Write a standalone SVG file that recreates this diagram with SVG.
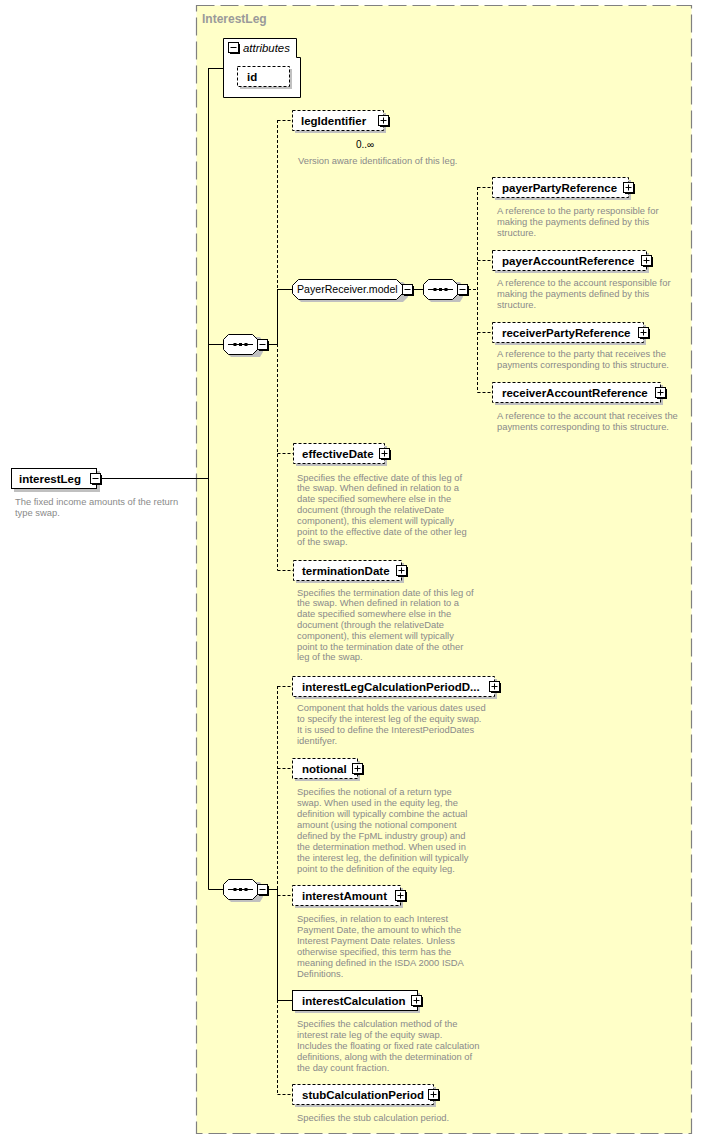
<svg xmlns="http://www.w3.org/2000/svg" xmlns:xlink="http://www.w3.org/1999/xlink" width="702" height="1139" viewBox="0 0 702 1139">
<style>
.frame{fill:#ffffc8;stroke:#808080;stroke-width:1.2;stroke-dasharray:18,6}
.title{font-family:"Liberation Sans",Arial,sans-serif;font-weight:bold;font-size:12px;fill:#9a9a9a}
.shadow{fill:#c0c0c0;stroke:none}
.box{fill:#fff;stroke:#000;stroke-width:1}
.opt{stroke-dasharray:3,2}
.name{font-family:"Liberation Sans",Arial,sans-serif;font-weight:bold;font-size:11.5px;fill:#000}
.model{font-family:"Liberation Sans",Arial,sans-serif;font-size:10.6px;fill:#000}
.attr{font-family:"Liberation Sans",Arial,sans-serif;font-style:italic;font-size:11.4px;fill:#000}
.desc{font-family:"Liberation Sans",Arial,sans-serif;font-size:9.4px;fill:#8a8a8a}
.occ{font-family:"Liberation Sans",Arial,sans-serif;font-size:10px;fill:#000}
.c{fill:none;stroke:#000;stroke-width:1}
.d{stroke-dasharray:3,2}
</style>
<defs>
<g id="plus"><rect x="2" y="2" width="10" height="10" fill="#000"/><rect x="0.5" y="0.5" width="10" height="10" fill="#fff" stroke="#000"/><path d="M2.5 5.5H8.5M5.5 2.5V8.5" stroke="#000" fill="none"/></g>
<g id="minus"><rect x="2" y="2" width="10" height="10" fill="#000"/><rect x="0.5" y="0.5" width="10" height="10" fill="#fff" stroke="#000"/><path d="M2.5 5.5H8.5" stroke="#000" fill="none"/></g>
<g id="seq"><path d="M8 3H37L40 8V18L37 23H8L3 18V8Z" fill="#c0c0c0"/><path d="M5.5 0.5H29.5L34.5 5.5V15.5L29.5 20.5H5.5L0.5 15.5V5.5Z" fill="#fff" stroke="#000"/><path d="M5 10.5H30" stroke="#000"/><rect x="10.5" y="9" width="3" height="3" fill="#000"/><rect x="16" y="9" width="3" height="3" fill="#000"/><rect x="21.5" y="9" width="3" height="3" fill="#000"/></g>
</defs>

<rect class="frame" x="196.5" y="5.5" width="495" height="1128"/>
<text class="title" x="202" y="23">InterestLeg</text>

<g id="connectors">
<path class="c" d="M100 478.5H208.5M208.5 68V889.5M208.5 68.5H223M208.5 344.5H223M268 344.5H277.5M208.5 889.5H223M268 889.5H277.5"/>
<path class="c d" d="M277.5 120V289M277.5 344V570.5M277.5 120.5H292M277.5 453.5H293M277.5 570.5H293"/>
<path class="c" d="M277.5 289V344M277.5 289.5H292M413 289.5H423"/>
<path class="c d" d="M468 289.5H477.5M477.5 187V392.5M477.5 187.5H492M477.5 260.5H492M477.5 332.5H492M477.5 392.5H492"/>
<path class="c d" d="M277.5 686V889M277.5 1000V1094.5M277.5 686.5H292M277.5 768.5H292M277.5 895.5H292M277.5 1094.5H292"/>
<path class="c" d="M277.5 889V1000.5M277.5 1000.5H292"/>
</g>

<g id="n-interestLeg">
<rect class="shadow" x="14" y="471" width="86" height="21"/>
<rect class="box" x="11.5" y="468.5" width="85" height="20"/>
<text class="name" x="19" y="482.5">interestLeg</text>
<use xlink:href="#minus" x="90" y="473"/>
<text class="desc" x="15"><tspan x="15" y="504.5">The fixed income amounts of the return</tspan><tspan x="15" y="515.5">type swap.</tspan></text>
</g>

<g id="n-attributes">
<path class="box" d="M223.5 38.5H296.5V57.5H300.5V97.5H223.5Z"/>
<use xlink:href="#minus" x="228" y="42"/>
<text class="attr" x="243" y="52">attributes</text>
</g>

<g id="n-id">
<rect class="shadow" x="240" y="69" width="52" height="20"/>
<rect class="box opt" x="237.5" y="66.5" width="52" height="20"/>
<text class="name" x="247" y="80.5">id</text>
</g>

<g id="n-legIdentifier">
<rect class="shadow" x="295" y="113" width="91" height="20"/>
<rect class="box opt" x="292.5" y="110.5" width="91" height="20"/>
<text class="name" x="301" y="124.5">legIdentifier</text>
<use xlink:href="#plus" x="378" y="115"/>
<text class="occ" x="356" y="148">0..∞</text>
<text class="desc" x="298" y="163.5">Version aware identification of this leg.</text>
</g>

<g id="n-seq1">
<use xlink:href="#seq" x="223" y="334"/>
<use xlink:href="#minus" x="257" y="339"/>
</g>

<g id="n-PayerReceiver.model">
<path d="M301 282H403L408 287V297L403 302H301L296 297V287Z" fill="#c0c0c0"/>
<path class="box" d="M298.5 279.5H396.5L402.5 285.5V293.5L396.5 299.5H298.5L292.5 293.5V285.5Z"/>
<text class="model" x="297" y="293">PayerReceiver.model</text>
<use xlink:href="#minus" x="402" y="284"/>
</g>

<g id="n-seq2">
<use xlink:href="#seq" x="423" y="279"/>
<use xlink:href="#minus" x="457" y="284"/>
</g>

<g id="n-payerPartyReference">
<rect class="shadow" x="495" y="180" width="136" height="20"/>
<rect class="box opt" x="492.5" y="177.5" width="136" height="20"/>
<text class="name" x="502" y="191.5">payerPartyReference</text>
<use xlink:href="#plus" x="623" y="182"/>
<text class="desc"><tspan x="497" y="213.5">A reference to the party responsible for</tspan><tspan x="497" y="224.5">making the payments defined by this</tspan><tspan x="497" y="235.5">structure.</tspan></text>
</g>

<g id="n-payerAccountReference">
<rect class="shadow" x="495" y="253" width="154" height="20"/>
<rect class="box opt" x="492.5" y="250.5" width="154" height="20"/>
<text class="name" x="502" y="264.5">payerAccountReference</text>
<use xlink:href="#plus" x="641" y="255"/>
<text class="desc"><tspan x="497" y="285.5">A reference to the account responsible for</tspan><tspan x="497" y="296.5">making the payments defined by this</tspan><tspan x="497" y="307.5">structure.</tspan></text>
</g>

<g id="n-receiverPartyReference">
<rect class="shadow" x="495" y="325" width="151" height="20"/>
<rect class="box opt" x="492.5" y="322.5" width="151" height="20"/>
<text class="name" x="502" y="336.5">receiverPartyReference</text>
<use xlink:href="#plus" x="638" y="327"/>
<text class="desc"><tspan x="497" y="356.5">A reference to the party that receives the</tspan><tspan x="497" y="367.5">payments corresponding to this structure.</tspan></text>
</g>

<g id="n-receiverAccountReference">
<rect class="shadow" x="495" y="385" width="168" height="20"/>
<rect class="box opt" x="492.5" y="382.5" width="168" height="20"/>
<text class="name" x="502" y="396.5">receiverAccountReference</text>
<use xlink:href="#plus" x="655" y="387"/>
<text class="desc"><tspan x="497" y="418.5">A reference to the account that receives the</tspan><tspan x="497" y="429.5">payments corresponding to this structure.</tspan></text>
</g>

<g id="n-effectiveDate">
<rect class="shadow" x="296" y="446" width="91" height="20"/>
<rect class="box opt" x="293.5" y="443.5" width="91" height="20"/>
<text class="name" x="302" y="457.5">effectiveDate</text>
<use xlink:href="#plus" x="379" y="448"/>
<text class="desc"><tspan x="297" y="480.5">Specifies the effective date of this leg of</tspan><tspan x="297" y="491.3">the swap. When defined in relation to a</tspan><tspan x="297" y="502.1">date specified somewhere else in the</tspan><tspan x="297" y="512.9">document (through the relativeDate</tspan><tspan x="297" y="523.7">component), this element will typically</tspan><tspan x="297" y="534.5">point to the effective date of the other leg</tspan><tspan x="297" y="545.3">of the swap.</tspan></text>
</g>

<g id="n-terminationDate">
<rect class="shadow" x="296" y="563" width="108" height="20"/>
<rect class="box opt" x="293.5" y="560.5" width="108" height="20"/>
<text class="name" x="302" y="574.5">terminationDate</text>
<use xlink:href="#plus" x="396" y="565"/>
<text class="desc"><tspan x="297" y="595.5">Specifies the termination date of this leg of</tspan><tspan x="297" y="606.3">the swap. When defined in relation to a</tspan><tspan x="297" y="617.1">date specified somewhere else in the</tspan><tspan x="297" y="627.9">document (through the relativeDate</tspan><tspan x="297" y="638.7">component), this element will typically</tspan><tspan x="297" y="649.5">point to the termination date of the other</tspan><tspan x="297" y="660.3">leg of the swap.</tspan></text>
</g>

<g id="n-seq3">
<use xlink:href="#seq" x="223" y="879"/>
<use xlink:href="#minus" x="257" y="884"/>
</g>

<g id="n-interestLegCalculationPeriodDates">
<rect class="shadow" x="295" y="679" width="202" height="20"/>
<rect class="box opt" x="292.5" y="676.5" width="202" height="20"/>
<text class="name" x="302" y="690.5">interestLegCalculationPeriodD...</text>
<use xlink:href="#plus" x="489" y="681"/>
<text class="desc"><tspan x="297" y="710.5">Component that holds the various dates used</tspan><tspan x="297" y="721.5">to specify the interest leg of the equity swap.</tspan><tspan x="297" y="732.5">It is used to define the InterestPeriodDates</tspan><tspan x="297" y="743.5">identifyer.</tspan></text>
</g>

<g id="n-notional">
<rect class="shadow" x="295" y="761" width="65" height="20"/>
<rect class="box opt" x="292.5" y="758.5" width="65" height="20"/>
<text class="name" x="302" y="772.5">notional</text>
<use xlink:href="#plus" x="352" y="763"/>
<text class="desc"><tspan x="297" y="794.5">Specifies the notional of a return type</tspan><tspan x="297" y="805.5">swap. When used in the equity leg, the</tspan><tspan x="297" y="816.5">definition will typically combine the actual</tspan><tspan x="297" y="827.5">amount (using the notional component</tspan><tspan x="297" y="838.5">defined by the FpML industry group) and</tspan><tspan x="297" y="849.5">the determination method. When used in</tspan><tspan x="297" y="860.5">the interest leg, the definition will typically</tspan><tspan x="297" y="871.5">point to the definition of the equity leg.</tspan></text>
</g>

<g id="n-interestAmount">
<rect class="shadow" x="295" y="888" width="108" height="20"/>
<rect class="box opt" x="292.5" y="885.5" width="108" height="20"/>
<text class="name" x="302" y="899.5">interestAmount</text>
<use xlink:href="#plus" x="395" y="890"/>
<text class="desc"><tspan x="297" y="921.5">Specifies, in relation to each Interest</tspan><tspan x="297" y="932.5">Payment Date, the amount to which the</tspan><tspan x="297" y="943.5">Interest Payment Date relates. Unless</tspan><tspan x="297" y="954.5">otherwise specified, this term has the</tspan><tspan x="297" y="965.5">meaning defined in the ISDA 2000 ISDA</tspan><tspan x="297" y="976.5">Definitions.</tspan></text>
</g>

<g id="n-interestCalculation">
<rect class="shadow" x="295" y="993" width="125" height="20"/>
<rect class="box" x="292.5" y="990.5" width="125" height="20"/>
<text class="name" x="302" y="1004.5">interestCalculation</text>
<use xlink:href="#plus" x="411" y="995"/>
<text class="desc"><tspan x="297" y="1026.5">Specifies the calculation method of the</tspan><tspan x="297" y="1037.5">interest rate leg of the equity swap.</tspan><tspan x="297" y="1048.5">Includes the floating or fixed rate calculation</tspan><tspan x="297" y="1059.5">definitions, along with the determination of</tspan><tspan x="297" y="1070.5">the day count fraction.</tspan></text>
</g>

<g id="n-stubCalculationPeriod">
<rect class="shadow" x="295" y="1087" width="141" height="20"/>
<rect class="box opt" x="292.5" y="1084.5" width="141" height="20"/>
<text class="name" x="302" y="1098.5">stubCalculationPeriod</text>
<use xlink:href="#plus" x="428" y="1089"/>
<text class="desc" x="297" y="1120.5">Specifies the stub calculation period.</text>
</g>
</svg>
